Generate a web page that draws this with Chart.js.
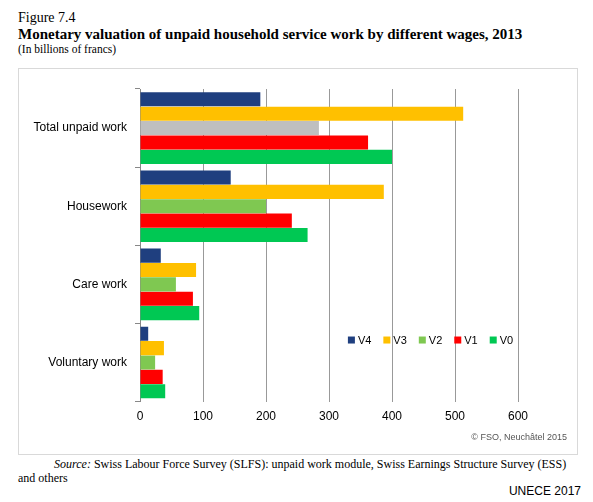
<!DOCTYPE html>
<html>
<head>
<meta charset="utf-8">
<script src="https://cdn.jsdelivr.net/npm/chart.js@4"></script>
<style>
  body { margin: 0; background: #fff; width: 593px; height: 502px; position: relative; font-family: "Liberation Serif", serif; }
  #head { position: absolute; left: 18px; top: 10px; color: #000; }
  #head .fig { font-size: 14px; }
  #head .ttl { font-size: 15px; font-weight: bold; }
  #head .sub { font-size: 11.5px; }
  #box { position: absolute; left: 18px; top: 68px; width: 560px; height: 387px; border: 1px solid #d9d9d9; box-sizing: border-box; }
  #src { position: absolute; left: 18px; top: 457px; width: 560px; font-size: 12px; line-height: 14px; }
  #unece { position: absolute; right: 12px; top: 484px; font-family: "Liberation Sans", sans-serif; font-size: 12px; }
</style>
</head>
<body>
<div id="head">
  <div class="fig">Figure 7.4</div>
  <div class="ttl">Monetary valuation of unpaid household service work by different wages, 2013</div>
  <div class="sub">(In billions of francs)</div>
</div>
<div id="box"><canvas id="myChart"></canvas></div>
<div id="src">&nbsp;&nbsp;&nbsp;&nbsp;&nbsp;&nbsp;&nbsp;&nbsp;&nbsp;&nbsp;&nbsp;&nbsp;<i>Source:</i> Swiss Labour Force Survey (SLFS): unpaid work module, Swiss Earnings Structure Survey (ESS) and others</div>
<div id="unece">UNECE 2017</div>
<script>
'use strict';

const categories = ['Total unpaid work', 'Housework', 'Care work', 'Voluntary work'];
const seriesNames = ['V4', 'V3', 'V2', 'V1', 'V0'];
const v4 = [191, 144, 33, 13];
const v3 = [513, 387, 89, 38];
const v2 = [284, 200, 57, 24];
const v1 = [362, 241, 84, 36];
const v0 = [400, 266, 94, 40];
const xTicks = [0, 100, 200, 300, 400, 500, 600];

const colors = ['#1f3f7f', '#ffc000', '#7fc851', '#ff0000', '#00c853'];
const v2Colors = ['#bfbfbf', colors[2], colors[2], colors[2]];

const datasets = [v4, v3, v2, v1, v0].map((vals, i) => ({
    label: seriesNames[i],
    data: vals,
    backgroundColor: i === 2 ? v2Colors : colors[i],
    borderWidth: 0
}));

// legend drawn inside the plot, like the original
const innerLegend = {
    id: 'innerLegend',
    afterDraw(chart) {
        const ctx = chart.ctx;
        let x = chart.scales.x.getPixelForValue(330);
        const y = chart.scales.y.getPixelForValue(3) - 22;
        ctx.save();
        ctx.font = '11px "Liberation Sans", sans-serif';
        ctx.textBaseline = 'middle';
        chart.data.datasets.forEach((ds, i) => {
            ctx.fillStyle = colors[i];
            ctx.fillRect(x, y - 4, 7, 7);
            ctx.fillStyle = '#000';
            ctx.fillText(ds.label, x + 10, y);
            x += 10 + ctx.measureText(ds.label).width + 12;
        });
        ctx.fillStyle = '#555';
        ctx.font = '9px "Liberation Sans Narrow", "Liberation Sans", sans-serif';
        ctx.textAlign = 'right';
        ctx.fillText('\u00a9 FSO, Neuch\u00e2tel 2015', chart.width - 10, chart.height - 16);
        ctx.restore();
    }
};

new Chart(document.getElementById('myChart').getContext('2d'), {
    type: 'bar',
    data: { labels: categories, datasets: datasets },
    plugins: [innerLegend],
    options: {
        indexAxis: 'y',
        responsive: true,
        maintainAspectRatio: false,
        animation: false,
        layout: { padding: { top: 20, right: 59, bottom: 22, left: 8 } },
        datasets: { bar: { categoryPercentage: 0.92, barPercentage: 0.98 } },
        plugins: { legend: { display: false }, tooltip: { enabled: false } },
        scales: {
            x: {
                min: 0, max: 600,
                afterBuildTicks: (axis) => { axis.ticks = xTicks.map(v => ({ value: v })); },
                grid: { color: '#999', lineWidth: 1, drawTicks: false },
                border: { display: false },
                ticks: { color: '#000', padding: 8, font: { size: 12, family: '"Liberation Sans", sans-serif' } }
            },
            y: {
                afterFit: (axis) => { axis.width = 113; },
                grid: { offset: true, drawOnChartArea: false, tickLength: 5, color: '#888' },
                border: { color: '#888' },
                ticks: { color: '#000', padding: 8, font: { size: 12, family: '"Liberation Sans", sans-serif' } }
            }
        }
    }
});
</script>
</body>
</html>
